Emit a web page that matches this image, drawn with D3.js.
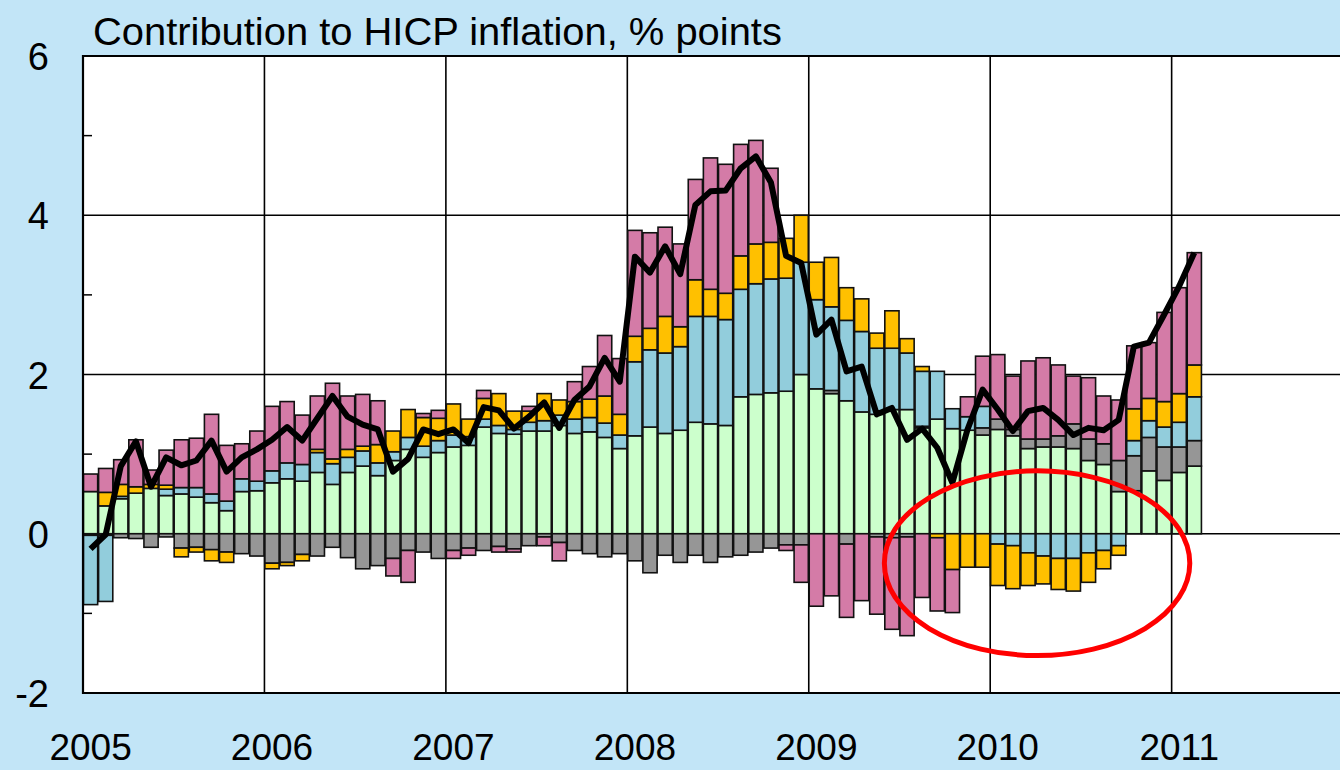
<!DOCTYPE html>
<html>
<head>
<meta charset="utf-8">
<script src="https://cdn.jsdelivr.net/npm/d3@7"></script>
<style>
  html, body { margin: 0; padding: 0; background: #c2e5f7; }
  svg { display: block; font-family: "Liberation Sans", Arial, sans-serif; }
</style>
</head>
<body>
<div id="chart"></div>
<script>
// monthly categories Jan 2005 .. Feb 2011
var months = d3.range(74).map(function(i) {
    return (2005 + Math.floor(i / 12)) + "-" + String(i % 12 + 1).padStart(2, "0");
});
var years = ["2005", "2006", "2007", "2008", "2009", "2010", "2011"];
var yTicks = [-2, 0, 2, 4, 6];
var yMinor = [-1, 1, 3, 5];

// contributions, % points
var green = [0.53,0.35,0.44,0.51,0.57,0.48,0.50,0.46,0.39,0.29,0.53,0.54,
             0.64,0.69,0.66,0.77,0.62,0.77,0.85,0.73,0.92,1.06,0.96,1.02,
             1.09,1.11,1.34,1.26,1.25,1.29,1.29,1.36,1.26,1.28,1.21,1.07,
             1.23,1.34,1.26,1.30,1.40,1.38,1.36,1.72,1.75,1.77,1.79,2.00,
             1.82,1.76,1.67,1.53,1.50,1.56,1.56,1.33,1.44,1.32,1.30,1.24,
             1.31,1.23,1.07,1.09,1.09,1.07,0.92,0.87,0.53,0.54,0.79,0.67,
             0.77,0.85];
var grey = [-0.02,-0.02,-0.05,-0.06,-0.17,-0.04,-0.18,-0.17,-0.20,-0.23,-0.25,-0.28,
            -0.37,-0.36,-0.26,-0.28,-0.17,-0.30,-0.44,-0.40,-0.31,-0.21,-0.23,-0.31,
            -0.21,-0.18,-0.21,-0.16,-0.19,-0.15,-0.04,-0.11,-0.21,-0.25,-0.29,-0.25,
            -0.34,-0.49,-0.27,-0.36,-0.27,-0.36,-0.29,-0.27,-0.23,-0.18,-0.14,-0.14,
            0.00,0.04,-0.13,0.00,-0.04,-0.05,-0.04,0.02,0.00,0.00,0.00,0.09,
            0.13,0.08,0.12,0.10,0.14,0.31,0.27,0.26,0.39,0.44,0.42,0.42,
            0.32,0.32];
var blue = [-0.87,-0.83,0.03,0.00,0.00,0.08,0.08,0.12,0.11,0.12,0.16,0.12,
            0.15,0.20,0.21,0.25,0.26,0.19,0.19,0.16,0.11,0.15,0.14,0.15,
            0.15,0.11,0.10,0.10,0.06,0.11,0.13,0.13,0.18,0.18,0.18,0.17,
            0.93,0.97,1.01,1.05,1.33,1.35,1.33,1.35,1.39,1.43,1.42,1.41,
            1.12,1.05,1.01,1.01,0.83,0.77,0.71,0.69,0.60,0.25,0.17,0.27,
            -0.13,-0.15,-0.24,-0.28,-0.31,-0.31,-0.24,-0.21,-0.15,0.19,0.21,0.25,
            0.31,0.55];
var yellow = [0.00,0.17,0.15,0.08,0.05,0.05,-0.11,-0.06,-0.14,-0.13,0.00,0.00,
              -0.07,-0.04,-0.08,0.04,0.06,0.10,0.06,0.23,0.26,0.35,0.36,0.28,
              0.39,0.22,0.26,0.40,0.23,0.14,0.34,0.19,0.22,0.23,0.34,0.26,
              0.32,0.27,0.46,0.25,0.46,0.34,0.33,0.42,0.50,0.46,0.50,0.59,
              0.47,0.62,0.41,0.41,0.19,0.47,0.18,0.06,-0.05,-0.45,-0.42,-0.42,
              -0.52,-0.54,-0.41,-0.35,-0.39,-0.41,-0.37,-0.23,-0.12,0.40,0.28,0.32,
              0.36,0.40];
var pink = [0.22,0.30,0.31,0.59,0.18,0.44,0.60,0.62,1.00,0.70,0.44,0.63,
            0.81,0.77,0.62,0.67,0.95,0.67,0.65,0.55,-0.22,-0.40,0.05,0.10,
            -0.10,-0.09,0.10,-0.07,-0.04,0.06,-0.11,-0.23,0.25,0.41,0.76,0.70,
            1.33,1.20,1.12,1.04,1.26,1.65,1.62,1.40,1.30,0.93,-0.07,-0.47,
            -0.91,-0.78,-0.92,-0.84,-0.97,-1.15,-1.24,-0.80,-0.92,-0.54,0.25,0.63,
            0.81,0.67,0.98,1.02,0.89,0.60,0.77,0.60,0.76,0.79,0.70,1.12,
            1.33,1.41];
// headline HICP inflation (black line)
var headline = [-0.19,-0.01,0.85,1.16,0.59,0.96,0.86,0.92,1.17,0.78,0.96,1.06,
                1.18,1.34,1.17,1.45,1.73,1.47,1.37,1.31,0.78,0.94,1.31,1.25,
                1.31,1.14,1.59,1.55,1.32,1.47,1.65,1.33,1.68,1.85,2.21,1.91,
                3.48,3.28,3.61,3.26,4.13,4.30,4.31,4.59,4.74,4.41,3.49,3.40,
                2.50,2.69,2.04,2.10,1.50,1.58,1.18,1.32,1.08,0.64,1.31,1.81,
                1.56,1.29,1.54,1.58,1.43,1.24,1.33,1.30,1.43,2.35,2.40,2.75,
                3.11,3.53];

var keys = ["green", "grey", "blue", "yellow", "pink"];
var colors = {green: "#ccffcc", grey: "#969696", blue: "#92cddc", yellow: "#ffc000", pink: "#d47ba7"};

// annotation ellipse (in data terms: month index, value)
var ringCenter = [63.1, -0.37];
var ringRadius = [10.1, 1.16];

var svgWidth = 1340, svgHeight = 770;
var plotLeft = 83, plotTop = 56, plotBottom = 693, step = 15.12;

var svg = d3.select("#chart").append("svg")
    .attr("width", svgWidth)
    .attr("height", svgHeight);

svg.append("rect")
    .attr("width", svgWidth).attr("height", svgHeight)
    .attr("fill", "#c2e5f7");

var x = d3.scaleBand()
    .domain(months)
    .range([plotLeft, plotLeft + months.length * step])
    .paddingInner(0.06)
    .paddingOuter(0.03);
var y = d3.scaleLinear().domain([-2, 6]).range([plotBottom, plotTop]);

// plot area
svg.append("rect")
    .attr("x", plotLeft).attr("y", plotTop)
    .attr("width", svgWidth - plotLeft + 5).attr("height", plotBottom - plotTop)
    .attr("fill", "#ffffff");

var yearX = function(yr) { return plotLeft + months.indexOf(yr + "-01") * step; };

// grid
var grid = svg.append("g").attr("stroke", "#000").attr("stroke-width", 1.6);
years.slice(1).forEach(function(yr) {
    grid.append("line")
        .attr("x1", yearX(yr)).attr("x2", yearX(yr))
        .attr("y1", plotTop).attr("y2", plotBottom);
});
[0, 2, 4].forEach(function(v) {
    grid.append("line")
        .attr("x1", plotLeft).attr("x2", svgWidth)
        .attr("y1", y(v)).attr("y2", y(v));
});

// stacked bars
var rows = months.map(function(m, i) {
    return {month: m, green: green[i], grey: grey[i], blue: blue[i], yellow: yellow[i], pink: pink[i]};
});
var series = d3.stack().keys(keys).offset(d3.stackOffsetDiverging)(rows);

svg.append("g").selectAll("g")
    .data(series)
    .enter().append("g")
    .attr("fill", function(d) { return colors[d.key]; })
    .selectAll("rect")
    .data(function(d) { return d.filter(function(p) { return Math.abs(p[1] - p[0]) > 0.001; }); })
    .enter().append("rect")
    .attr("x", function(d) { return x(d.data.month); })
    .attr("width", x.bandwidth())
    .attr("y", function(d) { return y(Math.max(d[0], d[1])); })
    .attr("height", function(d) { return Math.abs(y(d[0]) - y(d[1])); })
    .attr("stroke", "#111")
    .attr("stroke-width", 1.6);

// headline line
var line = d3.line()
    .x(function(d, i) { return x(months[i]) + x.bandwidth() / 2; })
    .y(function(d) { return y(d); });
svg.append("path")
    .datum(headline)
    .attr("d", line)
    .attr("fill", "none")
    .attr("stroke", "#000")
    .attr("stroke-width", 6)
    .attr("stroke-linejoin", "round");

// frame
var frame = svg.append("g").attr("stroke", "#000");
frame.append("line").attr("x1", plotLeft).attr("x2", plotLeft).attr("y1", plotTop - 1).attr("y2", plotBottom + 1).attr("stroke-width", 2.2);
frame.append("line").attr("x1", plotLeft).attr("x2", svgWidth).attr("y1", plotTop).attr("y2", plotTop).attr("stroke-width", 2);
frame.append("line").attr("x1", plotLeft).attr("x2", svgWidth).attr("y1", plotBottom).attr("y2", plotBottom).attr("stroke-width", 2);
yMinor.forEach(function(v) {
    frame.append("line").attr("x1", plotLeft).attr("x2", plotLeft + 9)
        .attr("y1", y(v)).attr("y2", y(v)).attr("stroke-width", 1.5);
});

// axes
var yAxis = svg.append("g")
    .attr("transform", "translate(" + plotLeft + ",0)")
    .call(d3.axisLeft(y).tickValues(yTicks).tickSize(0).tickPadding(34).tickFormat(d3.format("d")));
yAxis.select(".domain").remove();
yAxis.selectAll("text")
    .attr("dy", "0.36em")
    .style("font-size", "38px")
    .style("font-family", "'Liberation Sans', Arial, sans-serif")
    .attr("fill", "#000")
    .text(function(d) { return d < 0 ? "-" + Math.abs(d) : d; });

var xAxis = svg.append("g")
    .attr("transform", "translate(0," + plotBottom + ")")
    .call(d3.axisBottom(x).tickValues(years.map(function(yr) { return yr + "-01"; }))
        .tickSize(0).tickPadding(41).tickFormat(function(d) { return d.slice(0, 4); }));
xAxis.select(".domain").remove();
xAxis.selectAll("text")
    .style("font-size", "37px")
    .style("font-family", "'Liberation Sans', Arial, sans-serif")
    .attr("fill", "#000");

// title
svg.append("text")
    .attr("transform", "translate(93,45) scale(1.05,1)")
    .style("font-size", "38px")
    .attr("fill", "#000")
    .text("Contribution to HICP inflation, % points");

// red ring
svg.append("ellipse")
    .attr("cx", plotLeft + ringCenter[0] * step)
    .attr("cy", y(ringCenter[1]))
    .attr("rx", ringRadius[0] * step)
    .attr("ry", y(0) - y(ringRadius[1]))
    .attr("fill", "none")
    .attr("stroke", "#ff0000")
    .attr("stroke-width", 5);
</script>
</body>
</html>
